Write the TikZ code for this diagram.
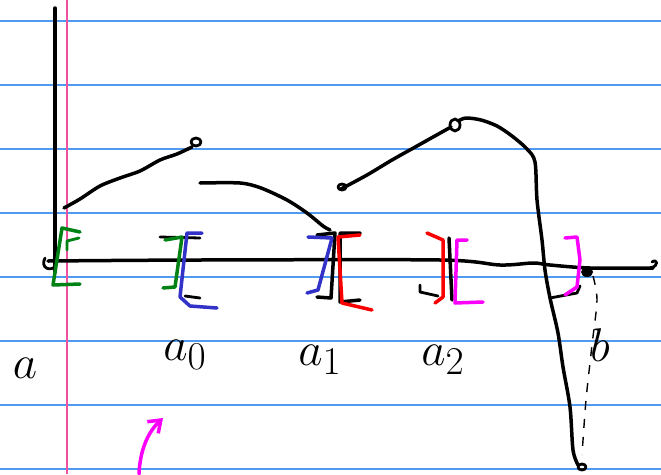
\documentclass[tikz,border=0pt]{standalone}
\usetikzlibrary{arrows.meta}
\definecolor{ruleblue}{RGB}{80,155,240}
\definecolor{marginpink}{RGB}{240,80,160}
\definecolor{pgreen}{RGB}{0,130,20}
\definecolor{pblue}{RGB}{50,50,200}
\definecolor{pred}{RGB}{250,0,0}
\definecolor{pmag}{RGB}{250,0,250}
\tikzset{
  ink/.style={line width=3.5pt, line cap=round, line join=round},
  pen/.style={ink, black},
  lbl/.style={font=\Huge, scale=1.9, transform shape, inner sep=0pt},
}
\begin{document}
\begin{tikzpicture}[x=1pt,y=-1pt]
\useasboundingbox (0,0) rectangle (661,474);
\fill[white] (0,0) rectangle (661,474);
% ruled lines
\foreach \yy in {21,85,149,213,277,341,405,469}
  \draw[ruleblue, line width=1.6pt] (0,\yy) -- (661,\yy);
\draw[marginpink, line width=2pt] (66.5,0) -- (66.5,474);
% axes
\draw[pen] (55,8) -- (55,272);
\draw[pen] plot[smooth] coordinates {(48,261) (200,260) (440,260) (500,265) (533,263) (550,265) (590,268) (653,268)};
\draw[pen, line width=2.8pt] (650,268) .. controls (660,266) and (657,258) .. (652,262);
\draw[pen, line width=2.8pt] (45,258) .. controls (40,268) and (50,272) .. (56,266);
% curve 1
\draw[pen] plot[smooth] coordinates {(64,208) (80,199) (100,186) (120,178) (140,171) (160,160) (177,154) (192,147)};
\draw[pen, line width=2.8pt] (196,142) ellipse (5pt and 4pt);
% curve 2
\draw[pen] plot[smooth] coordinates {(200,183) (240,183) (261,188) (287,200) (307,213) (323,226) (330,230)};
% curve 3
\draw[pen, line width=2.8pt] (342,187) ellipse (4pt and 3pt);
\draw[pen] plot[smooth] coordinates {(341,189) (367,175) (392,160) (417,146) (451,127)};
\draw[pen, line width=2.8pt] (455,125) ellipse (5pt and 6pt);
\draw[pen] plot[smooth] coordinates {(458,121) (466,118) (481,120) (497,126) (512,136) (527,149) (535,162) (537,200) (542,240) (545,270) (550,298) (558,333) (563,367) (570,407) (573,450) (578,465)};
\draw[pen, line width=2.8pt] (582,467) ellipse (4pt and 3pt);
\draw[pen, line width=2.8pt] (550,298) -- (577,293) -- (580,286);
\fill (587,272) ellipse (6pt and 5pt);
% dashed to b
\draw[black, line width=1.4pt, dash pattern=on 9pt off 9pt] plot[smooth] coordinates {(593,276) (597,300) (592,345) (586,400) (582,455)};
% brackets at a
\draw[ink, pgreen] (80,232) -- (62,228) -- (53,285) -- (80,284);
\draw[ink, pgreen, line width=2.8pt] (67,250) -- (67,241) -- (79,238);
% brackets at a0
\draw[pen, line width=2.8pt] (160,237) -- (200,238);
\draw[pen, line width=2.8pt] (185,296) -- (200,298);
\draw[ink, pgreen] (165,240) -- (182,237) -- (175,287) -- (163,288);
\draw[ink, pblue] (202,233) -- (187,233) -- (180,297) -- (190,306) -- (217,308);
% brackets at a1
\draw[pen] (317,235) -- (335,233) -- (331,298) -- (317,297);
\draw[ink, pblue] (308,237) -- (332,238) -- (318,290) -- (307,293);
\draw[pen] (360,233) -- (340,233) -- (340,302) -- (360,300);
\draw[ink, pred] (360,235) -- (338,237) -- (342,303) -- (372,310);
% brackets at a2
\draw[pen, line width=2.8pt] (420,285) -- (420,292) -- (438,296);
\draw[ink, pred] (427,233) -- (443,240) -- (443,297) -- (435,303);
\draw[pen] (449,238) -- (452,300);
\draw[ink, pmag] (467,240) -- (457,240) -- (455,303) -- (483,302);
% bracket at b
\draw[ink, pmag] (565,238) -- (577,237) -- (580,260) -- (577,287) -- (565,295);
% labels
\node[lbl] (la) at (25,368) {$a$};
\node[lbl] (la0) at (185,355) {$a_0$};
\node[lbl] (la1) at (320,360) {$a_1$};
\node[lbl] (la2) at (443,360) {$a_2$};
\node[lbl] (lb) at (600,345) {$b$};
% magenta arrow
\draw[ink, pmag, -{Straight Barb[length=11pt, width=16pt]}] (139,474) .. controls (140,450) and (148,432) .. (163,418);
\end{tikzpicture}
\end{document}
